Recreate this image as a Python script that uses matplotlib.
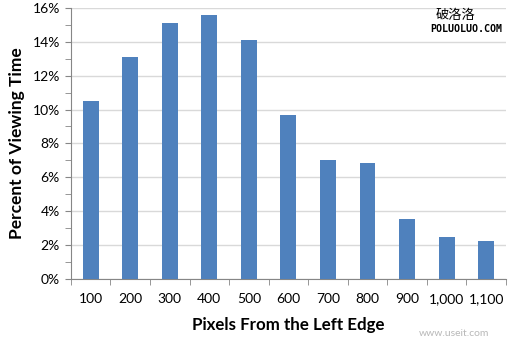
import matplotlib
matplotlib.use("Agg")
import matplotlib.pyplot as plt
from matplotlib.ticker import MultipleLocator, FuncFormatter, FixedLocator

categories = ["100", "200", "300", "400", "500", "600", "700", "800", "900", "1,000", "1,100"]
viewing_pct = [10.5, 13.1, 15.1, 15.55, 14.1, 9.65, 7.0, 6.83, 3.55, 2.48, 2.22]

plt.rcParams['font.family'] = ['Lato', 'DejaVu Sans']

fig = plt.figure(figsize=(5.10, 3.41), dpi=100)
ax = fig.add_axes([0.139, 0.182, 0.853, 0.795])

x = list(range(len(categories)))
ax.bar(x, viewing_pct, width=0.4, color="#4f81bd", zorder=3)

ax.set_xlim(-0.5, len(categories) - 0.5)
ax.set_ylim(0, 16)

ax.yaxis.set_major_locator(MultipleLocator(2))
ax.yaxis.set_minor_locator(MultipleLocator(1))
ax.yaxis.set_major_formatter(FuncFormatter(lambda v, p: f"{v:.0f}%"))
ax.grid(axis="y", which="major", color="#d9d9d9", linewidth=1.0, zorder=0)

ax.set_xticks(x)
ax.set_xticklabels(categories)
ax.xaxis.set_minor_locator(FixedLocator([i - 0.5 for i in range(len(categories) + 1)]))
ax.tick_params(axis="x", which="major", length=0, labelsize=10, pad=10, colors="#000000")
ax.tick_params(axis="x", which="minor", length=4, color="#868686", direction="out")
ax.tick_params(axis="y", which="major", length=4, color="#868686", labelsize=10, pad=4)
ax.tick_params(axis="y", which="minor", length=4, color="#868686")

for side in ("top", "right"):
    ax.spines[side].set_visible(False)
for side in ("left", "bottom"):
    ax.spines[side].set_color("#868686")

ax.set_xlabel("Pixels From the Left Edge", fontsize=12.2, fontweight="bold", labelpad=9)
ax.set_ylabel("Percent of Viewing Time", fontsize=12.5, fontweight="bold", labelpad=5)

fig.text(455 / 510, 1 - 16 / 341, "破洛洛", fontsize=9.5, ha="center", va="center",
         family=["Noto Sans CJK SC", "DejaVu Sans"], color="#000000")
fig.text(466 / 510, 1 - 29 / 341, "POLUOLUO.COM", fontsize=7.2, ha="center", va="center",
         family="DejaVu Sans Mono", fontweight="bold", color="#000000")
fig.text(454 / 510, 1 - 334 / 341, "www.useit.com", fontsize=7.5, ha="center", va="center",
         color="#b8b8b8")

fig.savefig("out.png", dpi=100)
